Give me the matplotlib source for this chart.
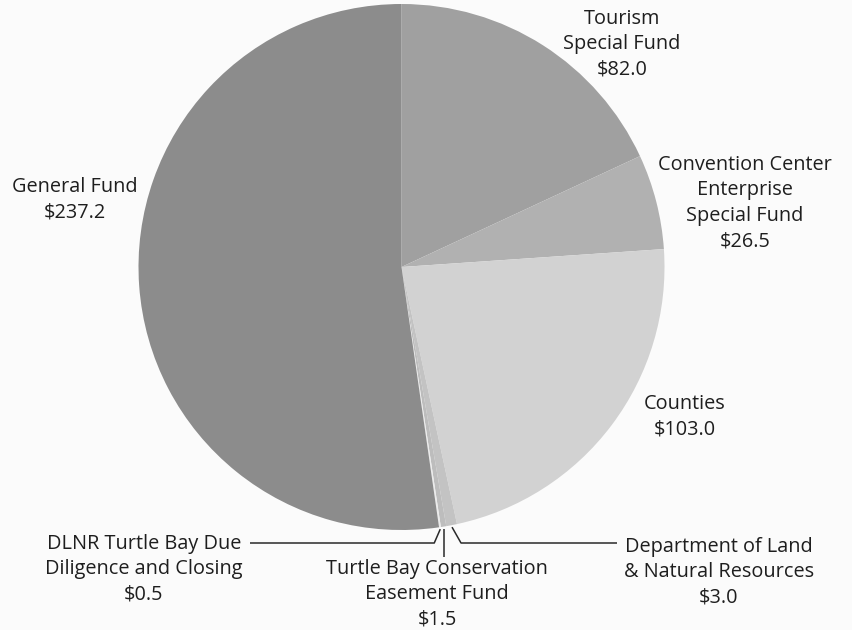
import numpy as np
import matplotlib
matplotlib.use("Agg")
import matplotlib.pyplot as plt

labels = ["Tourism\nSpecial Fund", "Convention Center\nEnterprise\nSpecial Fund", "Counties",
          "Department of Land\n& Natural Resources", "Turtle Bay Conservation\nEasement Fund",
          "DLNR Turtle Bay Due\nDiligence and Closing", "General Fund"]
values = [82.0, 26.5, 103.0, 3.0, 1.5, 0.5, 237.2]
colors = ["#a0a0a0", "#b1b1b1", "#d2d2d2", "#c3c3c3", "#bdbdbd", "#ebebeb", "#8c8c8c"]

W, H = 853, 630
fig = plt.figure(figsize=(W / 100, H / 100), dpi=100)
fig.patch.set_facecolor("#fbfbfb")
ax = fig.add_axes([0, 0, 1, 1])

cx, cy, R = 401.5, H - 267.0, 263.0
wedges, _ = ax.pie(values, colors=colors, startangle=90, counterclock=False,
                   center=(cx, cy), radius=R, frame=True,
                   wedgeprops=dict(linewidth=0))
ax.set_xlim(0, W)
ax.set_ylim(0, H)
ax.axis("off")

font = dict(family=["Open Sans", "DejaVu Sans"], fontsize=14.3, color="#1e1e1e",
            ha="center", va="center", linespacing=1.36)

def txt(i, x, y):
    ax.text(x, H - y, f"{labels[i]}\n${values[i]:.1f}", **font)

txt(0, 622, 44)
txt(1, 745, 203)
txt(2, 685, 417)
txt(3, 719, 572)
txt(4, 437, 594)
txt(5, 144, 569)
txt(6, 75, 200)

def edge_pt(i, extra=2.0):
    w = wedges[i]
    ang = np.deg2rad((w.theta1 + w.theta2) / 2)
    return cx + (R + extra) * np.cos(ang), cy + (R + extra) * np.sin(ang)

lk = dict(color="#2a2a2a", lw=1.1, solid_capstyle="butt")
# Dept of Land
x0, y0 = edge_pt(3)
ax.plot([x0, x0 + 9, 617], [y0, H - 543, H - 543], **lk)
# Turtle Bay Conservation
x0, y0 = edge_pt(4)
ax.plot([x0, x0], [y0, H - 557], **lk)
# DLNR Due Diligence
x0, y0 = edge_pt(5)
ax.plot([x0, x0 - 6, 250], [y0, H - 543, H - 543], **lk)

fig.savefig("out.png", dpi=100, facecolor=fig.get_facecolor())
